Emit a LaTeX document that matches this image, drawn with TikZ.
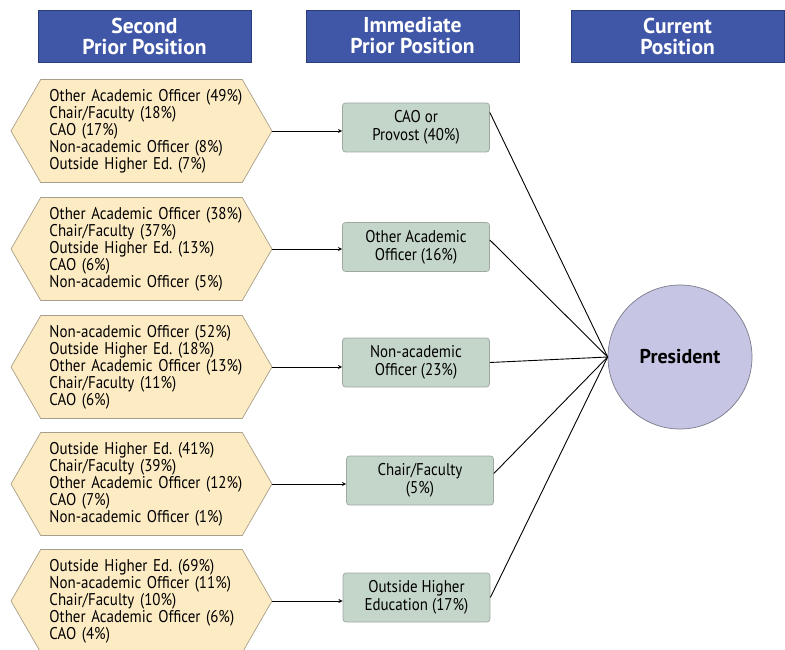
\documentclass[tikz,border=0pt]{standalone}
\usepackage{fontspec}
\setmainfont{PT Sans}[FakeStretch=0.88]
\newfontfamily\hdrfont{PT Sans}
\usepackage{tikz}
\usetikzlibrary{positioning}
\usetikzlibrary{arrows}
\usetikzlibrary{shapes.symbols}
\definecolor{hdrblue}{HTML}{4056A7}
\definecolor{hdrline}{HTML}{2C3D7E}
\definecolor{prevfill}{HTML}{FDEBC4}
\definecolor{prevline}{HTML}{A89F8A}
\definecolor{immfill}{HTML}{C4D5C9}
\definecolor{immline}{HTML}{9FA9A2}
\definecolor{presfill}{HTML}{C6C6E4}
\definecolor{presline}{HTML}{7A7A8A}

\begin{document}
\begin{tikzpicture}[
            x = 1pt, y = -1pt, % pixel grid, y downwards
            > = stealth, % arrow head style
            line width = 0.9pt
        ]

        \tikzset{
            header/.style = {draw = hdrline, fill = hdrblue, text = white,
                font = \hdrfont\fontsize{21.5}{21}\selectfont\bfseries, align = center,
                minimum width = 213pt, minimum height = 52pt, inner sep = 0pt},
            prevpos/.style = {signal, signal to = west and east, signal pointer angle = 120,
                draw = prevline, fill = prevfill, line width = 0.7pt,
                font = \fontsize{17}{17}\selectfont, text width = 200pt,
                execute at begin node = {\leftskip=8pt\rightskip=-30pt plus 1fil\parfillskip=0pt plus 1fil\frenchspacing},
                minimum width = 261pt, minimum height = 103pt, inner sep = 0pt},
            immpos/.style = {draw = immline, fill = immfill, rounded corners = 3pt,
                line width = 0.7pt, font = \fontsize{17}{18}\selectfont, align = center,
                minimum width = 147pt, minimum height = 49pt, inner sep = 0pt},
            pres/.style = {circle, draw = presline, fill = presfill, line width = 0.7pt,
                font = \hdrfont\fontsize{20}{22}\selectfont\bfseries, minimum size = 144pt}
        }

        \useasboundingbox (0,0) rectangle (785,650);

        % headers
        \node[header] (H1) at (144.5,36) {Second\\Prior Position};
        \node[header] (H2) at (412.5,36) {Immediate\\Prior Position};
        \node[header] (H3) at (677.5,36) {Current\\Position};

        % second prior position
        \node[prevpos] (P1) at (141.5,131) {Other Academic Officer (49\%)\\Chair/Faculty (18\%)\\CAO (17\%)\\Non-academic Officer (8\%)\\Outside Higher Ed. (7\%)};
        \node[prevpos] (P2) at (141.5,249) {Other Academic Officer (38\%)\\Chair/Faculty (37\%)\\Outside Higher Ed. (13\%)\\CAO (6\%)\\Non-academic Officer (5\%)};
        \node[prevpos] (P3) at (141.5,367) {Non-academic Officer (52\%)\\Outside Higher Ed. (18\%)\\Other Academic Officer (13\%)\\Chair/Faculty (11\%)\\CAO (6\%)};
        \node[prevpos] (P4) at (141.5,484) {Outside Higher Ed. (41\%)\\Chair/Faculty (39\%)\\Other Academic Officer (12\%)\\CAO (7\%)\\Non-academic Officer (1\%)};
        \node[prevpos] (P5) at (141.5,601) {Outside Higher Ed. (69\%)\\Non-academic Officer (11\%)\\Chair/Faculty (10\%)\\Other Academic Officer (6\%)\\CAO (4\%)};

        % immediate prior position
        \node[immpos] (I1) at (416,127.5) {CAO or\\Provost (40\%)};
        \node[immpos] (I2) at (416,247) {Other Academic\\Officer (16\%)};
        \node[immpos] (I3) at (416,362.5) {Non-academic\\Officer (23\%)};
        \node[immpos] (I4) at (420,480.5) {Chair/Faculty\\(5\%)};
        \node[immpos] (I5) at (416.5,597.5) {Outside Higher\\Education (17\%)};

        % current position
        \node[pres] (PR) at (680,357) {President};

        \path[->] (P1.east) edge (P1.east -| I1.west);
        \path[->] (P2.east) edge (P2.east -| I2.west);
        \path[->] (P3.east) edge (P3.east -| I3.west);
        \path[->] (P4.east) edge (P4.east -| I4.west);
        \path[->] (P5.east) edge (P5.east -| I5.west);

        \draw ([yshift=15pt]I1.east) -- (PR.west);
        \draw ([yshift=7pt]I2.east) -- (PR.west);
        \draw (I3.east) -- (PR.west);
        \draw ([yshift=7pt]I4.east) -- (PR.west);
        \draw (I5.east) -- (PR.west);

  \end{tikzpicture}
\end{document}
